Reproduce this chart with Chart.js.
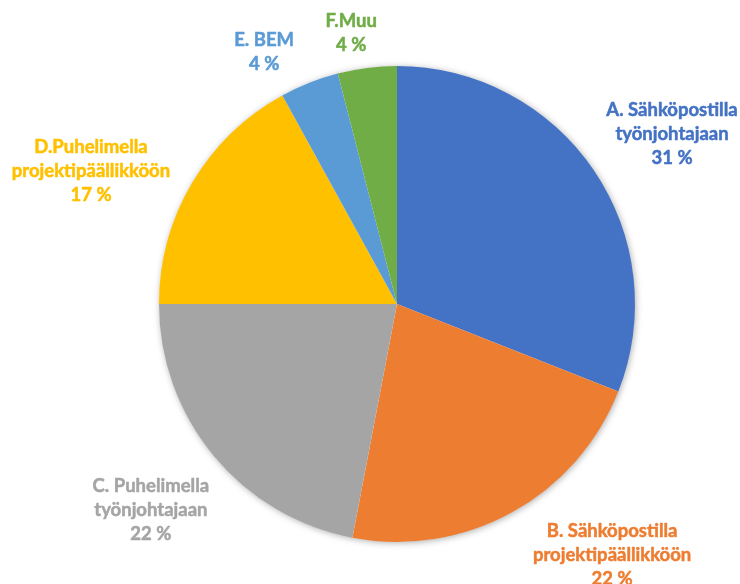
<!DOCTYPE html>
<html>
<head>
<meta charset="utf-8">
<script src="https://cdn.jsdelivr.net/npm/chart.js@4/dist/chart.umd.min.js"></script>
<style>
  html, body { margin: 0; padding: 0; background: #ffffff; }
  #wrap { width: 740px; height: 584px; }
</style>
</head>
<body>
<div id="wrap"><canvas id="pie" width="740" height="584"></canvas></div>
<script>
// Yhteydenottotavat ja osuudet (%)
const categories = [
  ["A. Sähköpostilla", "työnjohtajaan"],
  ["B. Sähköpostilla", "projektipäällikköön"],
  ["C. Puhelimella", "työnjohtajaan"],
  ["D.Puhelimella", "projektipäällikköön"],
  ["E. BEM"],
  ["F.Muu"]
];
const shares = [31, 22, 22, 17, 4, 4];
const sliceColors = ["#4472C4", "#ED7D31", "#A5A5A5", "#FFC000", "#5B9BD5", "#70AD47"];

// Label anchor around the pie: direction (degrees clockwise from top) and distance as a multiple of the radius
const labelAngles = [58.3, 139.4, 230.1, 293.5, 332.2, 350.4];
const labelDistances = [1.358, 1.389, 1.348, 1.402, 1.197, 1.155];

const FONT = "bold 18.5px Lato, 'Open Sans', sans-serif";
const LINE_H = 24;

// Soft shadow under the whole pie
const pieShadow = {
  id: 'pieShadow',
  beforeDatasetsDraw(chart) {
    const arc = chart.getDatasetMeta(0).data[0];
    if (!arc) return;
    const ctx = chart.ctx;
    ctx.save();
    ctx.shadowColor = 'rgba(0,0,0,0.35)';
    ctx.shadowBlur = 7;
    ctx.shadowOffsetX = 1;
    ctx.shadowOffsetY = 1;
    ctx.fillStyle = '#ffffff';
    ctx.beginPath();
    ctx.arc(arc.x, arc.y, arc.outerRadius - 0.5, 0, Math.PI * 2);
    ctx.fill();
    ctx.restore();
  }
};

// Category name and percentage written outside each slice in the slice colour
const outerLabels = {
  id: 'outerLabels',
  afterDatasetsDraw(chart) {
    const meta = chart.getDatasetMeta(0);
    const ctx = chart.ctx;
    ctx.save();
    ctx.font = FONT;
    ctx.textAlign = 'center';
    ctx.textBaseline = 'middle';
    ctx.lineWidth = 0.5;
    ctx.lineJoin = 'round';
    meta.data.forEach((arc, i) => {
      const a = labelAngles[i] * Math.PI / 180;
      const d = arc.outerRadius * labelDistances[i];
      const cx = arc.x + d * Math.sin(a);
      const cy = arc.y - d * Math.cos(a);
      const lines = categories[i].concat([shares[i] + ' %']);
      const top = cy - (lines.length - 1) * LINE_H / 2;
      ctx.fillStyle = sliceColors[i];
      ctx.strokeStyle = sliceColors[i];
      lines.forEach((t, k) => {
        ctx.fillText(t, cx, top + k * LINE_H);
        ctx.strokeText(t, cx, top + k * LINE_H);
      });
    });
    ctx.restore();
  }
};

new Chart(document.getElementById('pie'), {
  type: 'pie',
  data: {
    labels: categories.map(c => c.join(' ')),
    datasets: [{
      data: shares,
      backgroundColor: sliceColors,
      borderWidth: 0
    }]
  },
  options: {
    responsive: false,
    animation: false,
    rotation: 0,
    layout: { padding: { left: 159, right: 105, top: 66, bottom: 42 } },
    plugins: {
      legend: { display: false },
      tooltip: { enabled: false },
      title: { display: false }
    }
  },
  plugins: [pieShadow, outerLabels]
});
</script>
</body>
</html>
